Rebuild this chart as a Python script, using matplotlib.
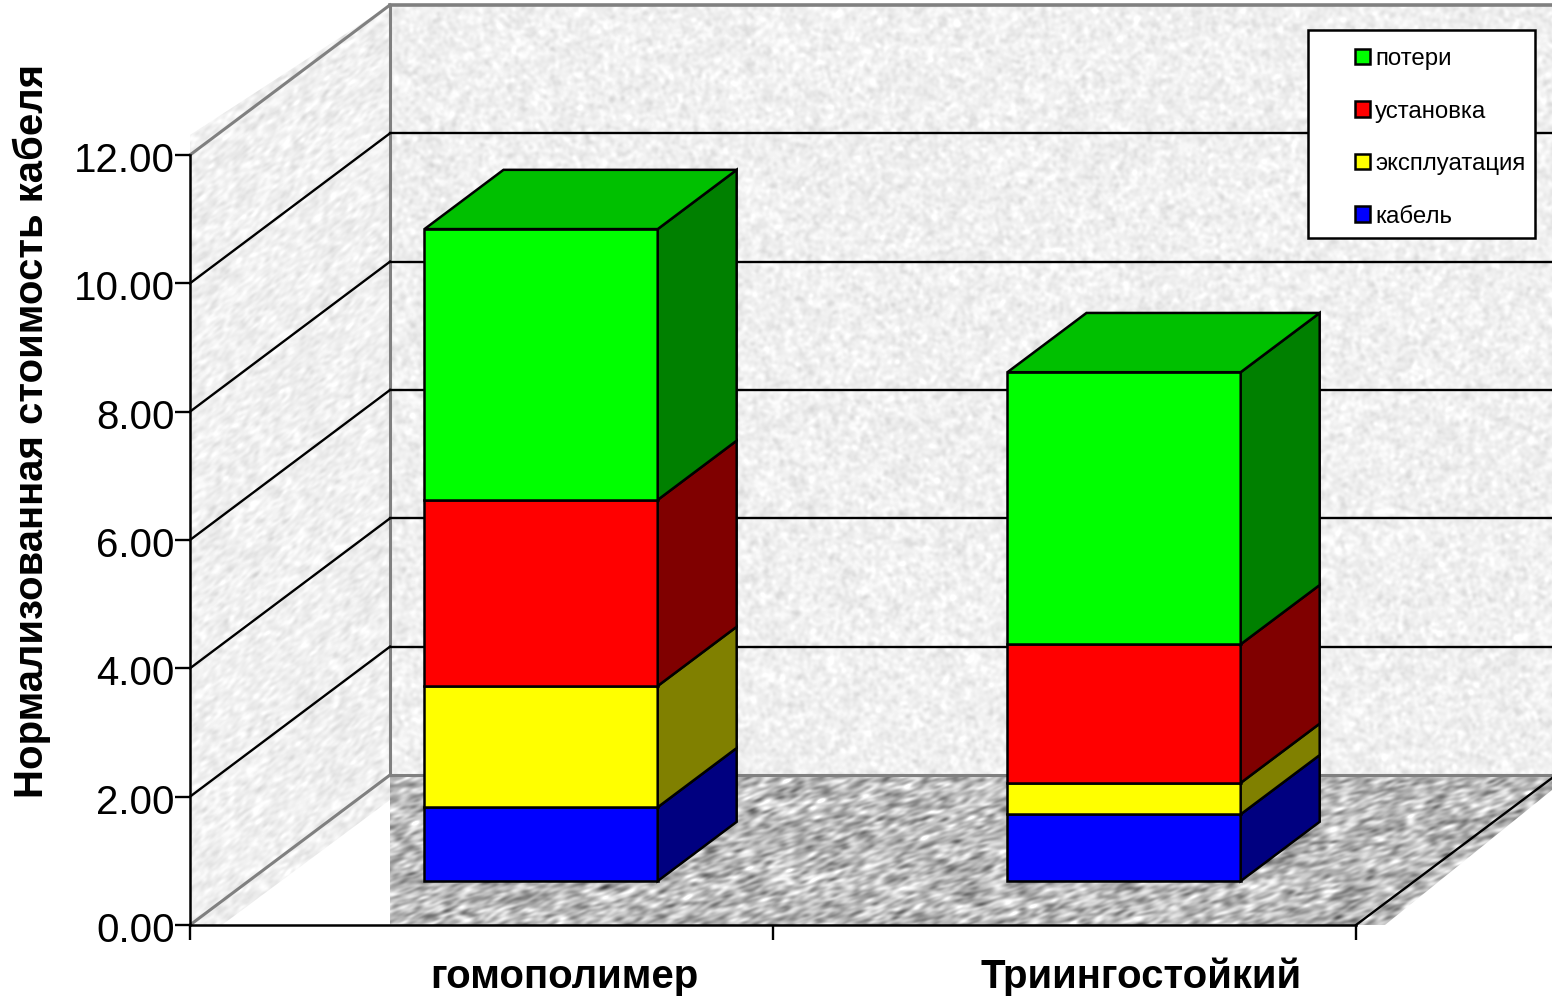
import numpy as np
import matplotlib
matplotlib.use('Agg')
import matplotlib.pyplot as plt
from matplotlib.patches import Polygon, Rectangle, Patch
from matplotlib.transforms import ScaledTranslation

plt.rcParams['font.family'] = ['Liberation Sans', 'DejaVu Sans']

# Stacked costs, bottom to top
categories = ['гомополимер', 'Триингостойкий']
cable = [1.15, 1.04]
operation = [1.89, 0.49]
installation = [2.90, 2.16]
losses = [4.22, 4.24]

series_names = ['кабель', 'эксплуатация', 'установка', 'потери']
series_values = [cable, operation, installation, losses]
front_colors = ['#0000ff', '#ffff00', '#ff0000', '#00ff00']
side_colors = ['#000080', '#808000', '#800000', '#008000']
top_color = '#00c000'
y_ticks = [0, 2, 4, 6, 8, 10, 12]

W, H = 1552, 1000
X_UNIT = 583.0    # pixels per category
Y_UNIT = 64.17    # pixels per cost unit
X0, Y0 = 190, 925

# depth of the box, in data units
DEPTH_X = 200 / X_UNIT
DEPTH_Y = 150 / Y_UNIT
BAR_WIDTH = 0.4
BAR_NEAR = 0.293  # where bars start along the floor depth
BAR_DEPTH = 0.395


def x_of(px):
    return (px - X0) / X_UNIT


def y_of(py):
    return (Y0 - py) / Y_UNIT


def grain(seed, sx, sy, angle, mean, std):
    # smoothed noise, stretched along a direction, for the wall and floor fills
    rng = np.random.default_rng(seed)
    noise = rng.standard_normal((H, W))
    fy = np.fft.fftfreq(H)[:, None]
    fx = np.fft.fftfreq(W)[None, :]
    a = np.deg2rad(angle)
    u = fx * np.cos(a) + fy * np.sin(a)
    v = -fx * np.sin(a) + fy * np.cos(a)
    kernel = np.exp(-2 * np.pi ** 2 * ((u * sx) ** 2 + (v * sy) ** 2))
    smooth = np.fft.ifft2(np.fft.fft2(noise) * kernel).real
    smooth = smooth / smooth.std()
    return np.clip(mean + std * smooth, 0, 1)


fig = plt.figure(figsize=(W / 100, H / 100), dpi=100)
ax = fig.add_axes([0, 0, 1, 1])
ax.patch.set_visible(False)

extent = (x_of(0), x_of(W), y_of(H), y_of(0))


def textured(poly_px, img):
    poly = Polygon([(x_of(a), y_of(b)) for a, b in poly_px], closed=True,
                   transform=ax.transData, facecolor='none', edgecolor='none')
    im = ax.imshow(img, cmap='gray', vmin=0, vmax=1, extent=extent, origin='upper',
                   aspect='auto', interpolation='bilinear', zorder=0)
    im.set_clip_path(poly)


# back wall, side wall, floor
textured([(390, 5), (W, 5), (W, 775), (390, 775)], grain(1, 1.8, 1.8, 0, 0.94, 0.024))
textured([(190, 925), (222, 925), (390, 800), (390, 5), (190, 135)],
         grain(2, 2.6, 1.3, -40, 0.94, 0.024))
textured([(390, 775), (W, 775), (W, 790), (1385, 925), (390, 925)],
         grain(3, 3.6, 1.3, -18, 0.73, 0.10))

# box outline
grey = '#808080'
back_x = DEPTH_X
ax.plot([back_x, back_x], [DEPTH_Y, 12 + DEPTH_Y], color=grey, lw=2.2, zorder=1)
ax.plot([back_x, x_of(W)], [12 + DEPTH_Y, 12 + DEPTH_Y], color=grey, lw=2.6, zorder=1)
ax.plot([back_x, x_of(W)], [DEPTH_Y, DEPTH_Y], color=grey, lw=2.2, zorder=1)
ax.plot([0, back_x], [0, DEPTH_Y], color=grey, lw=2.2, zorder=1)
ax.plot([0, back_x], [12, 12 + DEPTH_Y], color=grey, lw=2.2, zorder=1)
ax.plot([2, 2 + DEPTH_X], [0, DEPTH_Y], color='black', lw=1.7, zorder=1)

# grid on both walls
for t in y_ticks[1:-1]:
    ax.plot([0, back_x], [t, t + DEPTH_Y], color='black', lw=1.7, zorder=1)
    ax.plot([back_x, x_of(W)], [t + DEPTH_Y, t + DEPTH_Y], color='black', lw=1.7, zorder=1)

# stacked 3D bars
near_x = BAR_NEAR * DEPTH_X
base = BAR_NEAR * DEPTH_Y
bar_dx = BAR_DEPTH * DEPTH_X
bar_dy = BAR_DEPTH * DEPTH_Y
for i in range(len(categories)):
    left = i + 0.3017 + near_x
    right = left + BAR_WIDTH
    bottom = base
    for values, front, side in zip(series_values, front_colors, side_colors):
        top = bottom + values[i]
        ax.add_patch(Rectangle((left, bottom), BAR_WIDTH, values[i], facecolor=front,
                               edgecolor='black', lw=1.8, zorder=3, joinstyle='miter'))
        ax.add_patch(Polygon([(right, bottom), (right + bar_dx, bottom + bar_dy),
                              (right + bar_dx, top + bar_dy), (right, top)],
                             facecolor=side, edgecolor='black', lw=1.8, zorder=3))
        bottom = top
    ax.add_patch(Polygon([(left, bottom), (right, bottom),
                          (right + bar_dx, bottom + bar_dy), (left + bar_dx, bottom + bar_dy)],
                         facecolor=top_color, edgecolor='black', lw=1.8, zorder=3))

# axes
ax.set_xlim(x_of(0), x_of(W))
ax.set_ylim(y_of(H), y_of(0))
for name in ['top', 'right']:
    ax.spines[name].set_visible(False)
ax.spines['left'].set_position(('data', 0))
ax.spines['bottom'].set_position(('data', 0))
ax.spines['left'].set_bounds(0, 12)
ax.spines['bottom'].set_bounds(0, 2)
ax.spines['left'].set_linewidth(1.8)
ax.spines['bottom'].set_linewidth(1.8)
ax.set_xticks([0, 1, 2])
ax.set_xticklabels([])
ax.set_yticks(y_ticks)
ax.set_yticklabels(['%.2f' % t for t in y_ticks])
ax.tick_params(axis='both', length=10.8, width=1.7, pad=0)
ax.tick_params(axis='y', labelsize=29)
shift = ScaledTranslation(0, -2 / 100, fig.dpi_scale_trans)
for lab in ax.get_yticklabels():
    lab.set_transform(lab.get_transform() + shift)

ax.text(32 / W, 1 - 431 / H, 'Нормализованная стоимость кабеля', rotation=90,
        transform=ax.transAxes, ha='center', va='center', fontsize=28.9, fontweight='bold')
label_px = [564, 1141]
for name, xp in zip(categories, label_px):
    ax.text(x_of(xp), y_of(977), name, ha='center', va='center', fontsize=28.9, fontweight='bold')

# legend, newest series on top
ax.add_patch(Rectangle((x_of(1308), y_of(238)), 227 / X_UNIT, 208 / Y_UNIT, facecolor='white',
                       edgecolor='black', lw=1.8, zorder=4))
handles = [Patch(facecolor=c, edgecolor='black', lw=1.8, label=n)
           for c, n in zip(front_colors[::-1], series_names[::-1])]
leg = ax.legend(handles=handles, loc='upper left', bbox_to_anchor=(x_of(1355), y_of(48)),
                bbox_transform=ax.transData, frameon=False, fontsize=17.3, borderpad=0,
                borderaxespad=0, handlelength=0.62, handleheight=0.62, handletextpad=0.22,
                labelspacing=1.27)
leg.set_zorder(5)

fig.savefig('out.png', dpi=100)
